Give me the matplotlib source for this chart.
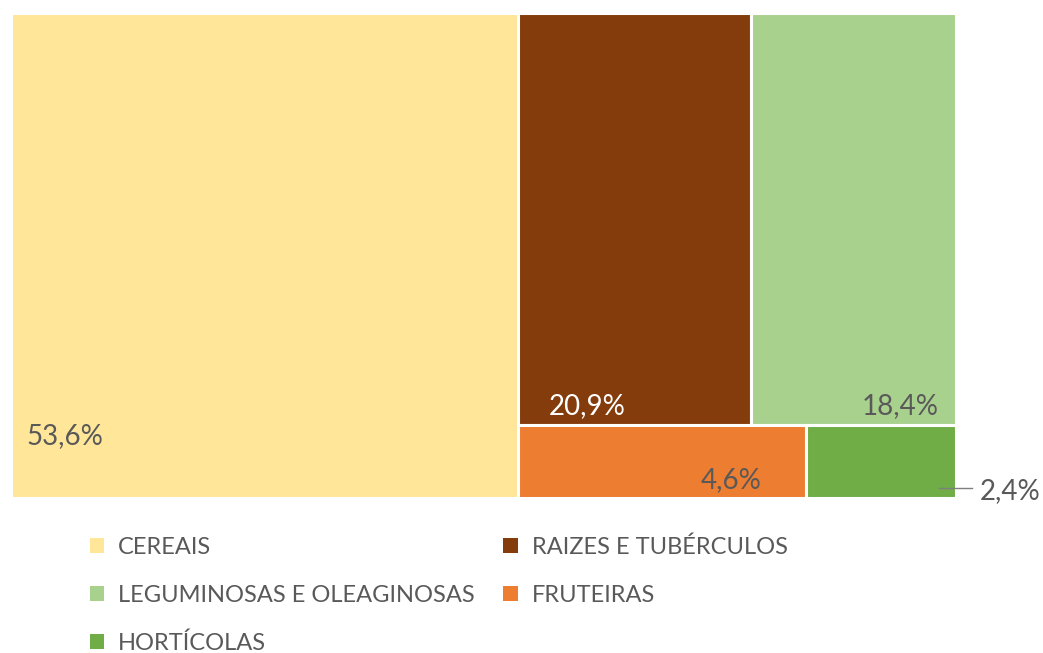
import matplotlib.pyplot as plt
from matplotlib.patches import Patch

# treemap data (share of area, %)
categories = ['CEREAIS', 'RAIZES E TUBÉRCULOS', 'LEGUMINOSAS E OLEAGINOSAS',
              'FRUTEIRAS', 'HORTÍCOLAS']
shares = [53.6, 20.9, 18.4, 4.6, 2.4]
share_labels = ['53,6%', '20,9%', '18,4%', '4,6%', '2,4%']
colors = ['#FFE699', '#843C0C', '#A9D18E', '#ED7D31', '#70AD47']

plt.rcParams['font.family'] = ['Lato', 'DejaVu Sans']
grey = '#595959'

W, H = 1043, 653
fig = plt.figure(figsize=(W / 100, H / 100), dpi=100)
ax_l, ax_t, ax_w, ax_h = 11, 13, 945, 485   # pixels
ax = fig.add_axes([ax_l / W, (H - ax_t - ax_h) / H, ax_w / W, ax_h / H])
ax.set_xlim(0, 1)
ax.set_ylim(0, 1)
ax.axis('off')
px = 1 / ax_w
py = 1 / ax_h

# layout: first category takes a full-height column, the rest split in two rows
total = sum(shares)
w_main = shares[0] / total
rest = total - shares[0]
top_sum = shares[1] + shares[2]
bot_sum = shares[3] + shares[4]
h_top = top_sum / rest
w_rest = 1 - w_main

xs = [0, w_main, w_main + w_rest * shares[1] / top_sum,
      w_main, w_main + w_rest * shares[3] / bot_sum]
ws = [w_main, w_rest * shares[1] / top_sum, w_rest * shares[2] / top_sum,
      w_rest * shares[3] / bot_sum, w_rest * shares[4] / bot_sum]
ys = [0, 1 - h_top, 1 - h_top, 0, 0]
hs = [1, h_top, h_top, 1 - h_top, 1 - h_top]

bars = ax.bar(xs, hs, width=ws, bottom=ys, align='edge', color=colors,
              edgecolor='white', linewidth=2.2)

fs = 20
# labels, offsets in pixels from a corner of the box
ax.annotate(share_labels[0], xy=(xs[0], ys[0]), xytext=(15, 54),
            textcoords='offset pixels', ha='left', va='baseline',
            fontsize=fs, color=grey)
ax.annotate(share_labels[1], xy=(xs[1], ys[1]), xytext=(31, 11),
            textcoords='offset pixels', ha='left', va='baseline',
            fontsize=fs, color='white')
ax.annotate(share_labels[2], xy=(xs[2] + ws[2], ys[2]), xytext=(-17, 11),
            textcoords='offset pixels', ha='right', va='baseline',
            fontsize=fs, color=grey)
ax.annotate(share_labels[3], xy=(xs[3] + ws[3], ys[3]), xytext=(-44, 10),
            textcoords='offset pixels', ha='right', va='baseline',
            fontsize=fs, color=grey)

# small slice: label outside with a leader line
xr = xs[4] + ws[4]
ax.plot([xr - 17 * px, xr + 16 * px], [10 * py, 10 * py], color='#7f7f7f',
        lw=1, clip_on=False)
ax.annotate(share_labels[4], xy=(xr, 0), xytext=(24, -1),
            textcoords='offset pixels', ha='left', va='baseline',
            fontsize=fs, color=grey, annotation_clip=False)

# legend, row-wise order -> column-first for matplotlib
order = [0, 2, 4, 1, 3]
handles = [Patch(facecolor=colors[i], edgecolor='none') for i in order]
fig.legend(handles, [categories[i] for i in order], loc='upper left',
           bbox_to_anchor=(90 / W, (H - 536) / H), ncol=2, frameon=False,
           fontsize=17, labelcolor=grey, handlelength=0.6, handleheight=0.6,
           handletextpad=0.6, labelspacing=1.15, columnspacing=1.2,
           borderpad=0, borderaxespad=0)

fig.savefig('out.png', dpi=100)
